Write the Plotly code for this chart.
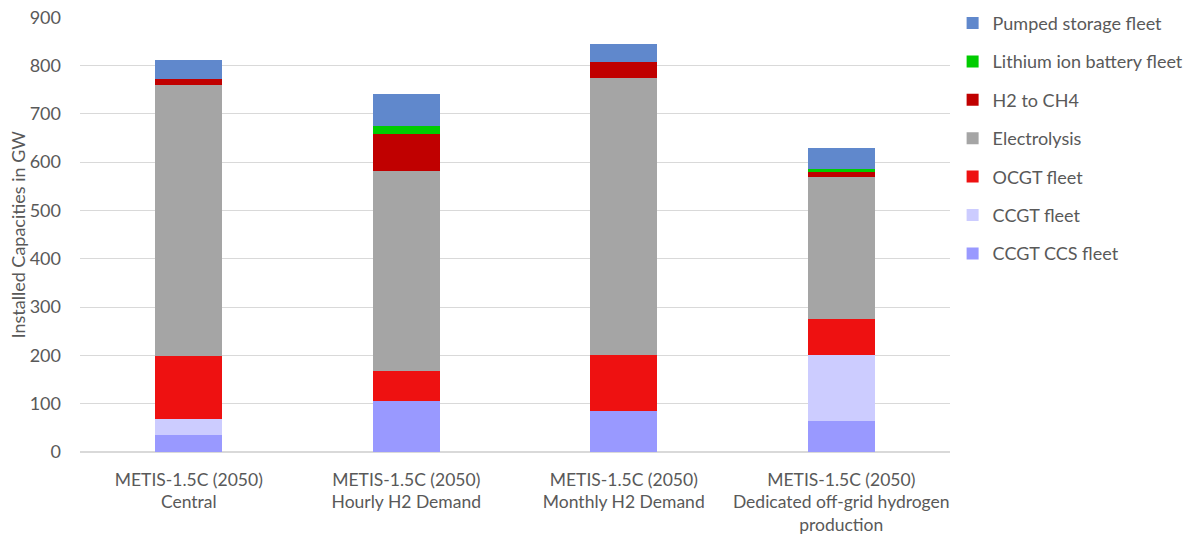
import plotly.graph_objects as go

categories = [
    "METIS-1.5C (2050)<br>Central",
    "METIS-1.5C (2050)<br>Hourly H2 Demand",
    "METIS-1.5C (2050)<br>Monthly H2 Demand",
    "METIS-1.5C (2050)<br>Dedicated off-grid hydrogen<br>production",
]

ccgt_ccs = [36, 106, 84, 64]
ccgt = [32, 0, 0, 137]
ocgt = [131, 62, 117, 74]
electrolysis = [560, 413, 573, 295]
h2_to_ch4 = [13, 77, 33, 10]
li_ion = [0, 17, 0, 6]
pumped = [40, 66, 38, 43]

series = [
    ("CCGT CCS fleet", ccgt_ccs, "#9999FF"),
    ("CCGT fleet", ccgt, "#CCCCFF"),
    ("OCGT fleet", ocgt, "#EE1111"),
    ("Electrolysis", electrolysis, "#A5A5A5"),
    ("H2 to CH4", h2_to_ch4, "#C00000"),
    ("Lithium ion battery fleet", li_ion, "#00CC00"),
    ("Pumped storage fleet", pumped, "#6088CC"),
]

FONT = "Lato, 'Open Sans', sans-serif"
GREY = "#595959"

fig = go.Figure()
for i, (name, vals, color) in enumerate(series):
    fig.add_trace(go.Bar(
        x=categories, y=vals, name=name, legendgroup=name,
        legendrank=len(series) - i,
        marker=dict(color=color, line=dict(width=0)),
    ))

fig.update_layout(
    barmode="stack",
    bargap=0.69,
    width=1191, height=540,
    margin=dict(l=80, r=241, t=17, b=88, autoexpand=False),
    plot_bgcolor="white", paper_bgcolor="white",
    font=dict(family=FONT, size=17, color=GREY),
    legend=dict(
        x=1.003, y=1.028, xanchor="left", yanchor="top",
        traceorder="grouped", tracegroupgap=12,
        font=dict(size=18, color=GREY),
    ),
    annotations=[dict(
        text="Installed Capacities in GW", textangle=-90,
        xref="paper", yref="paper", x=-0.0713, y=0.5,
        xanchor="center", yanchor="middle", showarrow=False,
        font=dict(size=18, color=GREY),
    )],
)
fig.update_xaxes(showgrid=False, tickfont=dict(size=17.5, color=GREY), ticks="",
                 ticklabelstandoff=15, automargin=False)
fig.update_yaxes(
    range=[0, 900.5], dtick=100, showgrid=True, gridcolor="#D9D9D9",
    zeroline=True, zerolinecolor="#D9D9D9", tickfont=dict(size=18, color=GREY),
    ticklabelstandoff=18, ticklabeloverflow="allow", automargin=False,
)

# drop the default 8px body margin so the figure fills the window exactly
fig.write_html(
    "out.html",
    config={"displayModeBar": False},
    post_script="document.body.style.margin = '0';",
)
